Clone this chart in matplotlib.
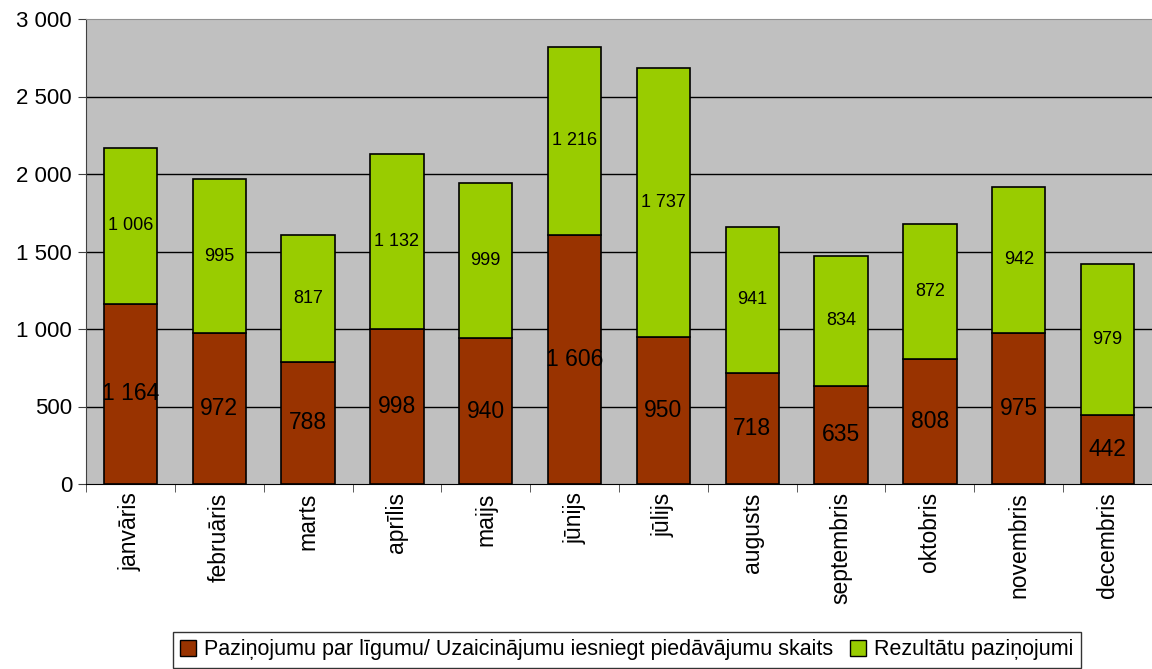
import numpy as np
import matplotlib.pyplot as plt
from matplotlib.patches import Patch

plt.rcParams['font.family'] = ['Liberation Sans', 'DejaVu Sans']

months = ["janvāris", "februāris", "marts", "aprīlis", "maijs", "jūnijs",
          "jūlijs", "augusts", "septembris", "oktobris", "novembris", "decembris"]
notices = [1164, 972, 788, 998, 940, 1606, 950, 718, 635, 808, 975, 442]
results = [1006, 995, 817, 1132, 999, 1216, 1737, 941, 834, 872, 942, 979]

label_bottom = "Paziņojumu par līgumu/ Uzaicinājumu iesniegt piedāvājumu skaits"
label_top = "Rezultātu paziņojumi"

red = "#993300"
green = "#99CC00"


def fmt(v):
    return f"{v:,}".replace(",", " ")


fig = plt.figure(figsize=(11.52, 6.69), dpi=100)
ax = fig.add_axes([86 / 1152, 185 / 669, 1066 / 1152, 465 / 669])
ax.set_facecolor("#C0C0C0")

x = np.arange(len(months))
ax.bar(x, notices, width=0.6, color=red, edgecolor="black", linewidth=1.2, zorder=3)
ax.bar(x, results, width=0.6, bottom=notices, color=green, edgecolor="black",
       linewidth=1.2, zorder=3)

for i in range(len(months)):
    ax.text(x[i], notices[i] / 2, fmt(notices[i]), ha="center", va="center",
            fontsize=16.5, zorder=4)
    ax.text(x[i], notices[i] + results[i] / 2, fmt(results[i]), ha="center",
            va="center", fontsize=13, zorder=4)

ax.set_xlim(-0.5, len(months) - 0.5)
ax.set_ylim(0, 3000)
yt = np.arange(0, 3001, 500)
ax.set_yticks(yt)
ax.set_yticklabels([fmt(v) for v in yt], fontsize=16)
for v in yt[1:-1]:
    ax.axhline(v, color="black", linewidth=1, zorder=1)

ax.set_xticks(x)
ax.set_xticklabels(months, rotation=90, fontsize=16.5)
ax.tick_params(axis="x", length=0, pad=6)
ax.set_xticks(np.arange(-0.5, len(months), 1), minor=True)
ax.tick_params(axis="x", which="minor", length=6, color="#404040")
ax.tick_params(axis="y", length=6, color="#404040", pad=4)

ax.spines["right"].set_visible(False)
ax.spines["top"].set_color("#909090")
ax.spines["left"].set_color("#404040")
ax.spines["bottom"].set_color("black")

handles = [Patch(facecolor=red, edgecolor="black", label=label_bottom),
           Patch(facecolor=green, edgecolor="black", label=label_top)]
leg = fig.legend(handles=handles, loc="center", bbox_to_anchor=(627 / 1152, 1 - 650 / 669),
                 ncol=2, fontsize=15.5, frameon=True, fancybox=False,
                 handlelength=0.7, handleheight=0.7, handletextpad=0.4,
                 columnspacing=0.8, borderpad=0.35)
leg.get_frame().set_edgecolor("black")
leg.get_frame().set_linewidth(1)

fig.savefig("out.png", dpi=100)
